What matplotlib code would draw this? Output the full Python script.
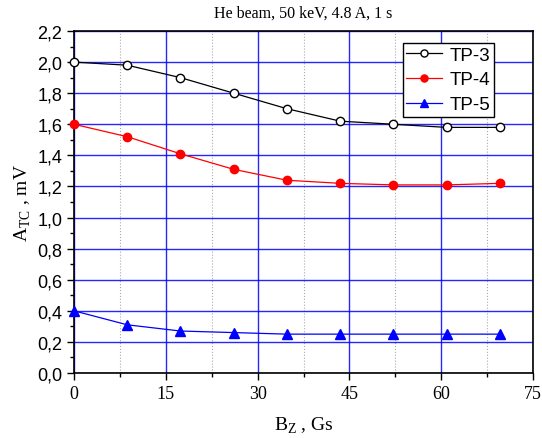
import matplotlib.pyplot as plt
from matplotlib.ticker import MultipleLocator, FuncFormatter

bz = [0, 8.7, 17.4, 26.1, 34.8, 43.5, 52.2, 60.9, 69.6]
tp3 = [2.00, 1.98, 1.90, 1.80, 1.70, 1.62, 1.60, 1.58, 1.58]
tp4 = [1.60, 1.52, 1.41, 1.31, 1.24, 1.22, 1.21, 1.21, 1.22]
tp5 = [0.40, 0.31, 0.27, 0.26, 0.25, 0.25, 0.25, 0.25, 0.25]

fig = plt.figure(figsize=(5.42, 4.39), dpi=100)
ax = fig.add_axes([74/542, 1 - 374/439, 459/542, 342/439])

ax.plot(bz, tp3, '-o', color='black', lw=0.9, ms=6, mfc='white', mec='black', label='TP-3', clip_on=False, zorder=3)
ax.plot(bz, tp4, '-o', color='red', lw=0.9, ms=6, mfc='red', mec='red', label='TP-4', clip_on=False, zorder=3)
ax.plot(bz, tp5, '-^', color='blue', lw=0.9, ms=6.5, mfc='blue', mec='blue', label='TP-5', clip_on=False, zorder=3)

ax.set_xlim(0, 75)
ax.set_ylim(0, 2.2)
ax.xaxis.set_major_locator(MultipleLocator(15))
ax.xaxis.set_minor_locator(MultipleLocator(7.5))
ax.yaxis.set_major_locator(MultipleLocator(0.2))
ax.yaxis.set_minor_locator(MultipleLocator(0.1))
ax.yaxis.set_major_formatter(FuncFormatter(lambda v, p: f"{v:.1f}".replace('.', ',')))

# Grid: blue major, dotted gray minor verticals
ax.grid(which='major', color='blue', lw=1.0, alpha=0.85)
ax.xaxis.grid(which='minor', color='#aaaaaa', ls=':', lw=0.8)
ax.set_axisbelow(True)

ax.tick_params(which='both', direction='out', top=False, right=False)
ax.tick_params(which='major', length=5, width=1)
ax.tick_params(which='minor', length=3, width=1)
ax.tick_params(axis='y', labelsize=13)
ax.tick_params(axis='x', labelsize=13)
for lbl in ax.get_xticklabels():
    lbl.set_fontfamily('Liberation Serif')
for lbl in ax.get_yticklabels():
    lbl.set_fontfamily('Liberation Sans')
for s in ax.spines.values():
    s.set_linewidth(1.2)

ax.set_xlabel(r'B$_\mathregular{Z}$ , Gs', family='Liberation Serif', fontsize=14, labelpad=9)
ax.set_ylabel(r'A$_\mathregular{TC}$ , mV', family='Liberation Serif', fontsize=14, labelpad=3)
ax.set_title('He beam, 50 keV, 4.8 A, 1 s', family='Liberation Serif', fontsize=11.5, pad=10)

leg = ax.legend(loc='upper right', bbox_to_anchor=(0.915, 0.965), borderaxespad=0,
                prop={'family': 'Liberation Sans', 'size': 13.5},
                fancybox=False, edgecolor='black', framealpha=1, handlelength=1.9,
                borderpad=0.2, labelspacing=0.4, handletextpad=0.4, markerscale=0.85)
leg.get_frame().set_linewidth(1.0)

fig.savefig('out.png', dpi=100)
